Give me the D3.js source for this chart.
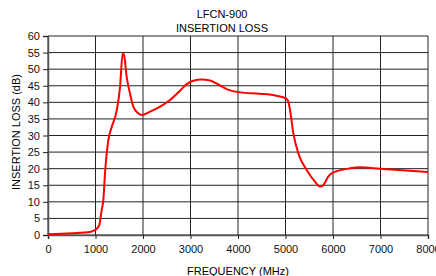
<!DOCTYPE html>
<html>
<head>
<meta charset="utf-8">
<script src="https://cdn.jsdelivr.net/npm/d3@7"></script>
<style>
  body { margin: 0; background: #fff; }
  svg { display: block; font-family: "Liberation Sans", Arial, sans-serif; }
</style>
</head>
<body>
<svg id="chart"></svg>
<script>
// data
const freqMHz = [0, 500, 900, 1000, 1080, 1130, 1165, 1200, 1270, 1340, 1446, 1516, 1572, 1600, 1656, 1726, 1796, 1900, 1970, 2150, 2360, 2570, 2780, 2920, 3060, 3235, 3410, 3560, 3760, 4040, 4460, 4810, 5010, 5060, 5095, 5165, 5270, 5446, 5620, 5730, 5800, 5900, 5970, 6360, 6570, 6990, 8000];
const lossDb = [0.2, 0.5, 1.0, 1.6, 3.0, 7.5, 10.5, 18.6, 28.6, 32.5, 37.5, 44.5, 54.7, 54.3, 47.7, 42.7, 38.7, 36.7, 36.2, 37.2, 38.7, 40.7, 43.5, 45.5, 46.5, 46.9, 46.6, 45.6, 44.0, 43.0, 42.6, 42.0, 41.2, 40.2, 37.7, 30.7, 24.6, 19.6, 16.1, 14.6, 15.1, 17.6, 18.6, 20.1, 20.4, 20.0, 19.0];
const xTicks = [0, 1000, 2000, 3000, 4000, 5000, 6000, 7000, 8000];
const yTicks = [0, 5, 10, 15, 20, 25, 30, 35, 40, 45, 50, 55, 60];

const width = 436, height = 276;
const margin = { top: 36, right: 8, bottom: 41, left: 48 };

const svg = d3.select('#chart')
  .attr('width', width)
  .attr('height', height);

const x = d3.scaleLinear()
  .domain([0, 8000])
  .range([margin.left, width - margin.right]);

const y = d3.scaleLinear()
  .domain([0, 60])
  .range([height - margin.bottom, margin.top]);

// grid
svg.append('g')
  .selectAll('line')
  .data(yTicks)
  .enter().append('line')
  .attr('x1', x(0)).attr('x2', x(8000))
  .attr('y1', d => y(d)).attr('y2', d => y(d))
  .attr('stroke', '#222').attr('stroke-width', 1);

svg.append('g')
  .selectAll('line')
  .data(xTicks)
  .enter().append('line')
  .attr('x1', d => x(d)).attr('x2', d => x(d))
  .attr('y1', y(0)).attr('y2', y(60))
  .attr('stroke', '#222').attr('stroke-width', 1);

// axes
const xAxis = svg.append('g')
  .attr('transform', `translate(0,${y(0)})`)
  .call(d3.axisBottom(x).tickValues(xTicks).tickFormat(d3.format('d')).tickSizeOuter(0).tickSize(4).tickPadding(6));

const yAxis = svg.append('g')
  .attr('transform', `translate(${x(0)},0)`)
  .call(d3.axisLeft(y).tickValues(yTicks).tickSizeOuter(0).tickSize(5).tickPadding(3));

[xAxis, yAxis].forEach(g => {
  g.selectAll('path').attr('stroke', '#555').attr('stroke-width', 1.5);
  g.selectAll('line').attr('stroke', '#222');
  g.selectAll('text').attr('fill', '#111').style('font-size', '11px').style('font-family', '"Liberation Sans", Arial, sans-serif');
});

// curve
const pts = freqMHz.map((f, i) => [f, lossDb[i]]);
const line = d3.line()
  .x(d => x(d[0]))
  .y(d => y(d[1]))
  .curve(d3.curveMonotoneX);

svg.append('path')
  .datum(pts)
  .attr('d', line)
  .attr('fill', 'none')
  .attr('stroke', '#ff0000')
  .attr('stroke-width', 2);

// titles
svg.append('text')
  .attr('x', 222).attr('y', 17.5)
  .attr('text-anchor', 'middle')
  .style('font-size', '11px')
  .text('LFCN-900');

svg.append('text')
  .attr('x', 222).attr('y', 31.5)
  .attr('text-anchor', 'middle')
  .style('font-size', '11px')
  .text('INSERTION LOSS');

svg.append('text')
  .attr('x', (x(0) + x(8000)) / 2).attr('y', 275)
  .attr('text-anchor', 'middle')
  .style('font-size', '11px')
  .text('FREQUENCY (MHz)');

svg.append('text')
  .attr('transform', 'translate(20,132) rotate(-90)')
  .attr('text-anchor', 'middle')
  .style('font-size', '11px')
  .text('INSERTION LOSS (dB)');
</script>
</body>
</html>
